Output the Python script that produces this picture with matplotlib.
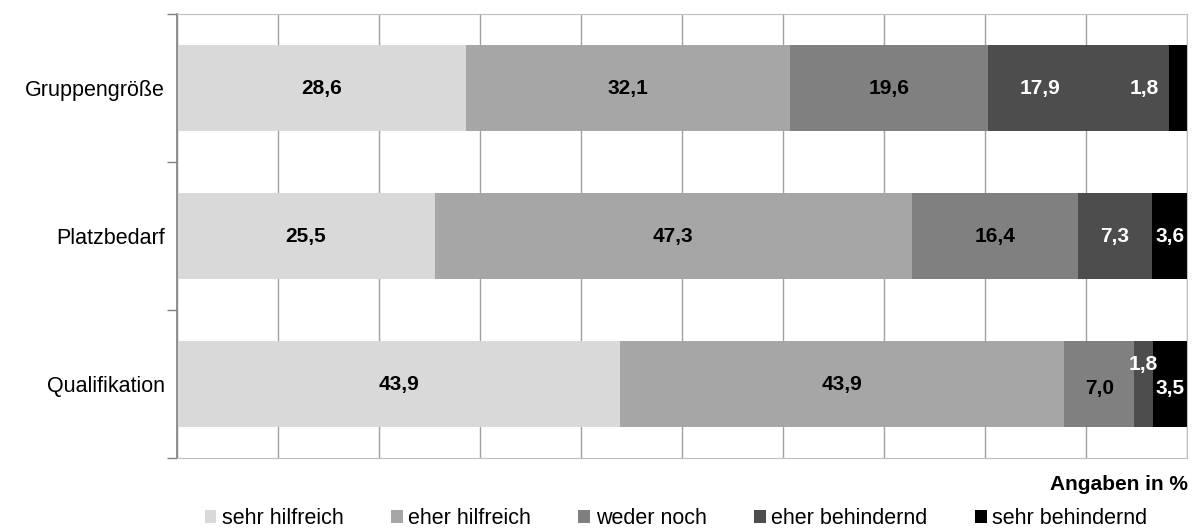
import matplotlib.pyplot as plt
import numpy as np
from matplotlib.patches import Patch

plt.rcParams['font.family'] = ['Liberation Sans', 'DejaVu Sans']

categories = ["Gruppengröße", "Platzbedarf", "Qualifikation"]
series = ["sehr hilfreich", "eher hilfreich", "weder noch", "eher behindernd", "sehr behindernd"]
values = np.array([
    [28.6, 32.1, 19.6, 17.9, 1.8],
    [25.5, 47.3, 16.4, 7.3, 3.6],
    [43.9, 43.9, 7.0, 1.8, 3.5],
])
colors = ["#d9d9d9", "#a6a6a6", "#808080", "#4d4d4d", "#000000"]
text_colors = ["black", "black", "black", "white", "white"]

# label offsets (x in %, y in bar units) for crowded small segments
offsets = {(0, 3): (-3.8, 0), (0, 4): (-3.3, 0),
           (2, 2): (0, 0.03), (2, 3): (0, -0.13), (2, 4): (0, 0.03)}
label_colors = {(2, 2): "black"}

fig = plt.figure(figsize=(11.92, 5.30), dpi=100)
ax = fig.add_axes([177 / 1192, 1 - 458 / 530, 1010 / 1192, 444 / 530])

y = np.arange(len(categories))
left = np.zeros(len(categories))
for j, name in enumerate(series):
    ax.barh(y, values[:, j], left=left, height=0.575, color=colors[j], label=name, zorder=2)
    for i in range(len(categories)):
        dx, dy = offsets.get((i, j), (0, 0))
        ax.text(left[i] + values[i, j] / 2 + dx, y[i] + dy, f"{values[i, j]:.1f}".replace(".", ","),
                ha="center", va="center", fontsize=15, fontweight="bold",
                color=label_colors.get((i, j), text_colors[j]), zorder=3)
    left += values[:, j]

ax.set_xlim(0, 100)
ax.set_ylim(2.5, -0.5)
ax.set_xticks(np.arange(0, 101, 10))
ax.set_xticklabels([])
ax.tick_params(axis="x", length=0)
ax.grid(axis="x", color="#a0a0a0", linewidth=1, zorder=0)
ax.set_axisbelow(True)

ax.set_yticks(y)
ax.set_yticklabels(categories, fontsize=15.5)
ax.tick_params(axis="y", which="major", length=0, pad=9)
ax.set_yticks([-0.5, 0.5, 1.5, 2.5], minor=True)
ax.tick_params(axis="y", which="minor", length=7, color="#808080", width=1)

for s in ["top", "bottom", "right"]:
    ax.spines[s].set_color("#bfbfbf")
ax.spines["left"].set_color("#808080")
ax.spines["left"].set_linewidth(1.2)

fig.text(1188 / 1192, 1 - 484 / 530, "Angaben in %", ha="right", va="center",
         fontsize=15, fontweight="bold")

handles = [Patch(facecolor=c, edgecolor="none") for c in colors]
fig.legend(handles, series, loc="center", bbox_to_anchor=(0.567, 1 - 519 / 530), ncol=5,
           frameon=False, fontsize=15.5, handlelength=0.55, handleheight=0.55,
           handletextpad=0.25, columnspacing=2.2, borderpad=0)

fig.savefig("out.png", dpi=100)
